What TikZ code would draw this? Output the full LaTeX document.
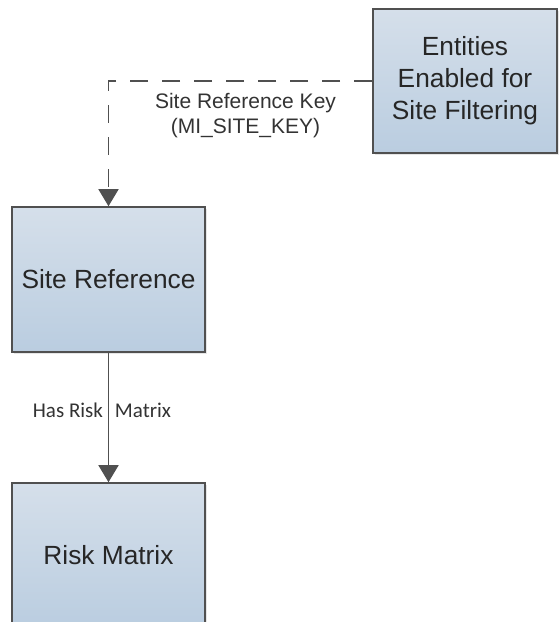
\documentclass[tikz,border=0pt]{standalone}
\usepackage{fontspec}
\setmainfont{Liberation Sans}
\newfontfamily\calibfont{Carlito}
\usetikzlibrary{arrows.meta,shadows}
\definecolor{boxtop}{HTML}{D5DFEA}
\definecolor{boxbot}{HTML}{BACDE0}
\definecolor{boxline}{HTML}{505050}
\definecolor{lineclr}{HTML}{505050}
\definecolor{boxtext}{HTML}{262626}
\definecolor{labtext}{HTML}{333333}
\begin{document}
\begin{tikzpicture}[x=1pt,y=-1pt,
  box/.style={draw=boxline, line width=1.6pt, top color=boxtop, bottom color=boxbot,
    minimum width=193pt, minimum height=145pt, inner sep=0pt, align=center,
    font=\fontsize{26.3}{32}\selectfont, text=boxtext,
    drop shadow={shadow xshift=2pt, shadow yshift=-2pt, opacity=0.2, fill=gray}},
  conn/.style={draw=lineclr, line width=1.8pt, -{Triangle[width=20pt,length=17pt]}},
  dashconn/.style={conn, dash pattern=on 18pt off 14pt},
  keylabel/.style={align=center, text=labtext, font=\fontsize{21}{25}\selectfont, inner sep=0pt},
  rellabel/.style={text=labtext, font=\calibfont\fontsize{21}{25}\selectfont, inner sep=0pt}
]
\useasboundingbox (0,0) rectangle (558,622);
\node[box, minimum width=184pt, minimum height=144pt] (ent) at (465,81) {Entities\\Enabled for\\Site Filtering};
\node[box] (sr) at (108.5,279.5) {Site Reference};
\node[box] (rm) at (108.5,555.5) {Risk Matrix};
\draw[dashconn] (ent.west) -| (sr.north);
\node[keylabel] (klab) at (245.5,115.5) {Site Reference Key\\(MI\_SITE\_KEY)};
\node[rellabel] (rlab) at (102,410) {Has Risk\hspace{12pt}Matrix};
\draw[conn] (sr.south) -- (rm.north);
\end{tikzpicture}
\end{document}
